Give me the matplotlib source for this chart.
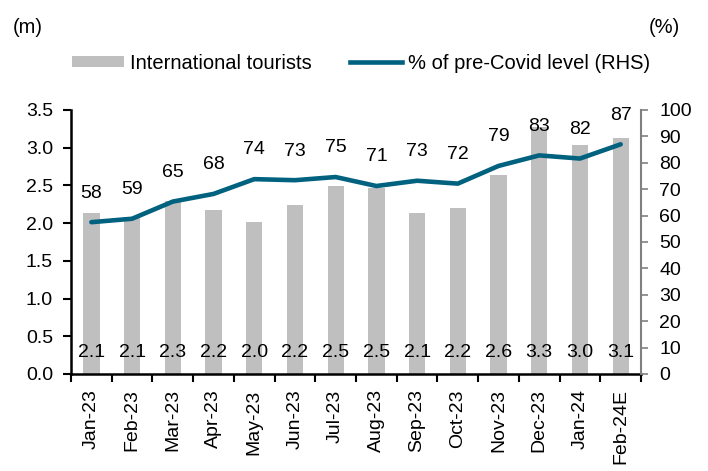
import numpy as np
import matplotlib.pyplot as plt
from matplotlib.patches import Patch
from matplotlib.lines import Line2D

plt.rcParams['font.family'] = ['Liberation Sans', 'DejaVu Sans']

months = ['Jan-23', 'Feb-23', 'Mar-23', 'Apr-23', 'May-23', 'Jun-23', 'Jul-23',
          'Aug-23', 'Sep-23', 'Oct-23', 'Nov-23', 'Dec-23', 'Jan-24', 'Feb-24E']
tourists = [2.14, 2.08, 2.29, 2.18, 2.01, 2.24, 2.49, 2.47, 2.13, 2.20, 2.64, 3.27, 3.04, 3.13]
tourist_labels = ['2.1', '2.1', '2.3', '2.2', '2.0', '2.2', '2.5', '2.5', '2.1', '2.2', '2.6', '3.3', '3.0', '3.1']
pct_precovid = [57.5, 58.8, 65.3, 68.2, 73.8, 73.4, 74.6, 71.2, 73.2, 72.1, 78.8, 82.8, 81.6, 87.0]
pct_labels = ['58', '59', '65', '68', '74', '73', '75', '71', '73', '72', '79', '83', '82', '87']

bar_color = '#BFBFBF'
line_color = '#00627F'
fs = 14

fig = plt.figure(figsize=(7.08, 4.71), dpi=100)
ax = fig.add_axes([0.1003, 0.206, 0.8051, 0.5605])
ax2 = ax.twinx()

x = np.arange(len(months))
ax.bar(x, tourists, width=0.4, color=bar_color, zorder=1)
for i, lab in enumerate(tourist_labels):
    ax.text(x[i], 0.28, lab, ha='center', va='center', fontsize=fs, zorder=5)

ax2.plot(x, pct_precovid, color=line_color, linewidth=3.3, solid_capstyle='round', zorder=3)
for i, lab in enumerate(pct_labels):
    ax2.annotate(lab, (x[i], pct_precovid[i]), xytext=(0, 21), textcoords='offset points',
                 ha='center', va='center', fontsize=fs)

# left axis
ax.set_xlim(-0.5, len(months) - 0.5)
ax.set_ylim(0, 3.5)
ax.set_yticks(np.arange(0, 3.51, 0.5))
ax.set_yticklabels([f'{v:.1f}' for v in np.arange(0, 3.51, 0.5)], fontsize=fs)
ax.tick_params(axis='y', direction='out', length=6, width=1.5, pad=7)

# x ticks at the category boundaries, labels centered
ax.set_xticks(x)
ax.set_xticklabels(months, rotation=90, fontsize=fs)
ax.tick_params(axis='x', which='major', length=0, pad=11)
ax.set_xticks(np.arange(-0.5, len(months), 1.0), minor=True)
ax.tick_params(axis='x', which='minor', direction='out', length=6, width=1.5)

for s in ['top', 'right']:
    ax.spines[s].set_visible(False)
ax.spines['left'].set_linewidth(1.8)
ax.spines['bottom'].set_linewidth(1.8)

# right axis
ax2.set_ylim(0, 100)
ax2.set_yticks(np.arange(0, 101, 10))
ax2.tick_params(axis='y', direction='out', length=5, width=1.2, color='#808080',
                labelsize=fs, pad=8)
for s in ['top', 'left', 'bottom']:
    ax2.spines[s].set_visible(False)
ax2.spines['right'].set_color('#808080')
ax2.spines['right'].set_linewidth(1.5)

fig.text(0.018, 0.942, '(m)', fontsize=14.5, ha='left', va='center')
fig.text(0.961, 0.942, '(%)', fontsize=14.5, ha='right', va='center')

handles = [Patch(facecolor=bar_color, edgecolor='none', label='International tourists'),
           Line2D([0], [0], color=line_color, linewidth=3.3, label='% of pre-Covid level (RHS)')]
fig.legend(handles=handles, loc='center', bbox_to_anchor=(0.51, 0.866), ncol=2, frameon=False,
           fontsize=14.5, handlelength=2.6, handleheight=0.5, handletextpad=0.3, columnspacing=1.9)

fig.savefig('out.png', dpi=100)
